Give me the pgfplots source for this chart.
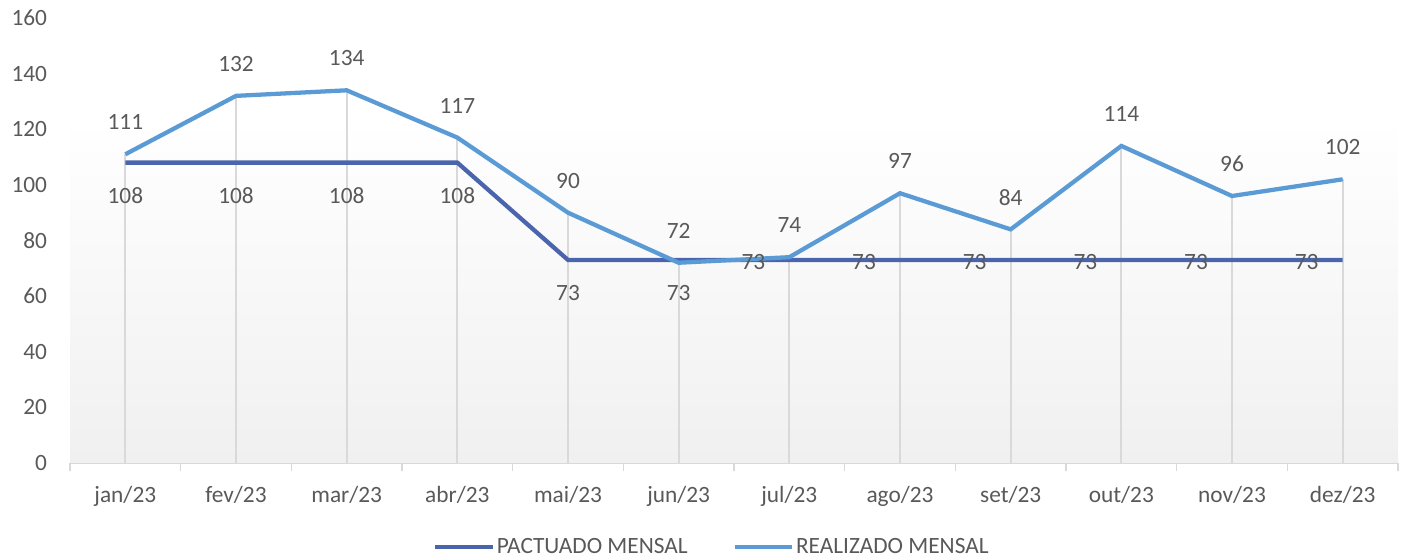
\documentclass[border=0pt]{standalone}
\usepackage{fontspec}
\setmainfont{Carlito}
\usepackage{pgfplots}
\pgfplotsset{compat=1.18}
\definecolor{pact}{HTML}{4A65AD}
\definecolor{real}{HTML}{5B9BD5}
\definecolor{txt}{HTML}{595959}
\definecolor{gridc}{HTML}{D9D9D9}
\definecolor{bgbot}{HTML}{F0F0F0}
\newcommand{\lblfont}{\fontsize{17.5bp}{21bp}\selectfont}
\begin{document}
\begin{tikzpicture}
\useasboundingbox (0,0) rectangle (1055.25bp,420bp);
\begin{axis}[
  at={(52.5bp,72.75bp)}, anchor=south west,
  width=996bp, height=333.75bp, scale only axis,
  xmin=-0.5, xmax=11.5, ymin=0, ymax=160,
  clip=false,
  axis x line*=bottom, axis y line*=left,
  x axis line style={draw=gridc, line width=1.2bp},
  y axis line style={draw=none},
  xtick={0,...,11},
  xticklabels={jan/23,fev/23,mar/23,abr/23,mai/23,jun/23,jul/23,ago/23,set/23,out/23,nov/23,dez/23},
  minor xtick={-0.5,0.5,...,11.5},
  major tick length=0pt, minor tick length=6bp, tick align=outside,
  minor x tick style={draw=gridc, line width=1.2bp},
  major tick style={draw=none},
  ytick={0,20,...,160},
  tick label style={font=\lblfont, text=txt},
  /pgf/number format/assume math mode=true,
  xticklabel style={anchor=base, yshift=-30bp},
  yticklabel style={anchor=east, inner sep=0pt, xshift=-17bp},
  legend style={at={(0.4834,-0.189)}, anchor=center, draw=none, fill=none,
    legend columns=2, font=\lblfont, text=txt,
    /tikz/every even column/.append style={column sep=32bp},
    nodes={inner sep=1.5bp}},
  legend cell align=left,
  legend image code/.code={\draw[#1] (0bp,0bp) -- (43bp,0bp);},
]
\fill[top color=white, bottom color=bgbot] (axis cs:-0.5,0) rectangle (axis cs:11.5,124);
% drop lines
\addplot[ycomb, draw=gridc, line width=1.5bp, mark=none, forget plot] coordinates {
(0,111) (1,132) (2,134) (3,117) (4,90) (5,73) (6,74) (7,97) (8,84) (9,114) (10,96) (11,102)};
% PACTUADO
\addplot[pact, line width=3.2bp, mark=none] coordinates {
(0,108) (1,108) (2,108) (3,108) (4,73) (5,73) (6,73) (7,73) (8,73) (9,73) (10,73) (11,73)};
\addlegendentry{PACTUADO MENSAL}
% REALIZADO
\addplot[real, line width=3.2bp, mark=none] coordinates {
(0,111) (1,132) (2,134) (3,117) (4,90) (5,72) (6,74) (7,97) (8,84) (9,114) (10,96) (11,102)};
\addlegendentry{REALIZADO MENSAL}
% labels
\addplot[draw=none, mark=none, forget plot, nodes near coords,
  nodes near coords style={anchor=center, yshift=24bp, font=\lblfont, text=txt}] coordinates {
(0,111) (1,132) (2,134) (3,117) (4,90) (5,72) (6,74) (7,97) (8,84) (9,114) (10,96) (11,102)};
\addplot[draw=none, mark=none, forget plot, nodes near coords,
  nodes near coords style={anchor=center, yshift=-25bp, font=\lblfont, text=txt}] coordinates {
(0,108) (1,108) (2,108) (3,108) (4,73) (5,73)};
\addplot[draw=none, mark=none, forget plot, nodes near coords,
  nodes near coords style={anchor=center, xshift=-27bp, yshift=-1.5bp, font=\lblfont, text=txt}] coordinates {
(6,73) (7,73) (8,73) (9,73) (10,73) (11,73)};
\end{axis}
\end{tikzpicture}
\end{document}
